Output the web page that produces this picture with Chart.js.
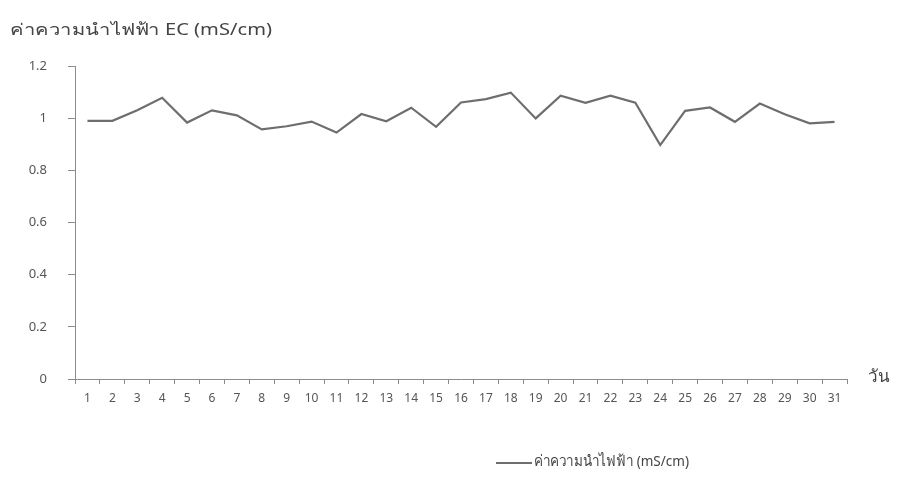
<!DOCTYPE html>
<html>
<head>
<meta charset="utf-8">
<script src="https://cdn.jsdelivr.net/npm/chart.js"></script>
<style>
  body { margin: 0; background: #fff; }
  canvas { display: block; }
</style>
</head>
<body>
<canvas id="ecChart" width="911" height="486"></canvas>
<script>
// days of the month
const days = ['1', '2', '3', '4', '5', '6', '7', '8', '9', '10', '11', '12', '13', '14', '15', '16',
  '17', '18', '19', '20', '21', '22', '23', '24', '25', '26', '27', '28', '29', '30', '31'];

// EC values (mS/cm)
const ecValues = [0.99, 0.99, 1.03, 1.078, 0.983, 1.03, 1.011, 0.957, 0.969, 0.987, 0.945, 1.016, 0.988, 1.04, 0.967, 1.06,
  1.073, 1.098, 0.999, 1.086, 1.059, 1.086, 1.059, 0.897, 1.028, 1.041, 0.986, 1.056, 1.015, 0.98, 0.986];

const yTitle = 'ค่าความนำไฟฟ้า EC (mS/cm)';
const xTitle = 'วัน';
const seriesName = 'ค่าความนำไฟฟ้า (mS/cm)';

const fontFamily = "Tahoma, 'Noto Sans', 'DejaVu Sans', sans-serif";
const lineColor = '#6e6e6e';
const axisColor = '#8c8c8c';

// text squeezed/stretched to a given width, the scanned chart uses a wide face
function wideText(c, text, x, y, width) {
  const w = c.measureText(text).width;
  c.save();
  c.translate(x, y);
  c.scale(width / w, 1);
  c.fillText(text, 0, 0);
  c.restore();
}

// draws the axis titles and the legend below the plot
const labelsPlugin = {
  id: 'labels',
  afterDraw(chart) {
    const c = chart.ctx;
    const area = chart.chartArea;
    c.save();
    c.fillStyle = '#444';
    c.textBaseline = 'middle';
    c.textAlign = 'left';
    c.font = '16px ' + fontFamily;
    wideText(c, yTitle, 10, 30, 262);
    c.font = '17px ' + fontFamily;
    c.fillText(xTitle, area.right + 21, area.bottom - 2);

    // legend
    const x0 = 496;
    const y0 = 462;
    c.strokeStyle = lineColor;
    c.lineWidth = 2.2;
    c.beginPath();
    c.moveTo(x0, y0 + 1);
    c.lineTo(x0 + 36, y0 + 1);
    c.stroke();
    c.font = '15px ' + fontFamily;
    wideText(c, seriesName, x0 + 38, y0, 155);
    c.restore();
  }
};

new Chart(document.getElementById('ecChart').getContext('2d'), {
  type: 'line',
  data: {
    labels: days,
    datasets: [{
      label: seriesName,
      data: ecValues,
      borderColor: lineColor,
      borderWidth: 2.2,
      pointRadius: 0,
      tension: 0,
      fill: false
    }]
  },
  options: {
    responsive: false,
    animation: false,
    devicePixelRatio: 1,
    layout: { padding: { top: 66, right: 64, bottom: 0, left: 0 } },
    plugins: {
      legend: { display: false },
      tooltip: { enabled: false }
    },
    scales: {
      x: {
        offset: true,
        grid: { offset: true, drawOnChartArea: false, drawTicks: true, tickLength: 5, color: axisColor },
        border: { color: axisColor },
        ticks: { color: '#555', font: { family: fontFamily, size: 12 }, padding: 7, maxRotation: 0, autoSkip: false },
        afterFit: (s) => { s.height = 107; }
      },
      y: {
        min: 0,
        max: 1.2,
        grid: { drawOnChartArea: false, drawTicks: true, tickLength: 7, color: axisColor },
        border: { color: axisColor },
        ticks: {
          stepSize: 0.2,
          color: '#555',
          font: { family: fontFamily, size: 13 },
          padding: 21,
          callback: (v) => String(Math.round(v * 10) / 10)
        },
        afterFit: (s) => { s.width = 75; }
      }
    }
  },
  plugins: [labelsPlugin]
});
</script>
</body>
</html>
